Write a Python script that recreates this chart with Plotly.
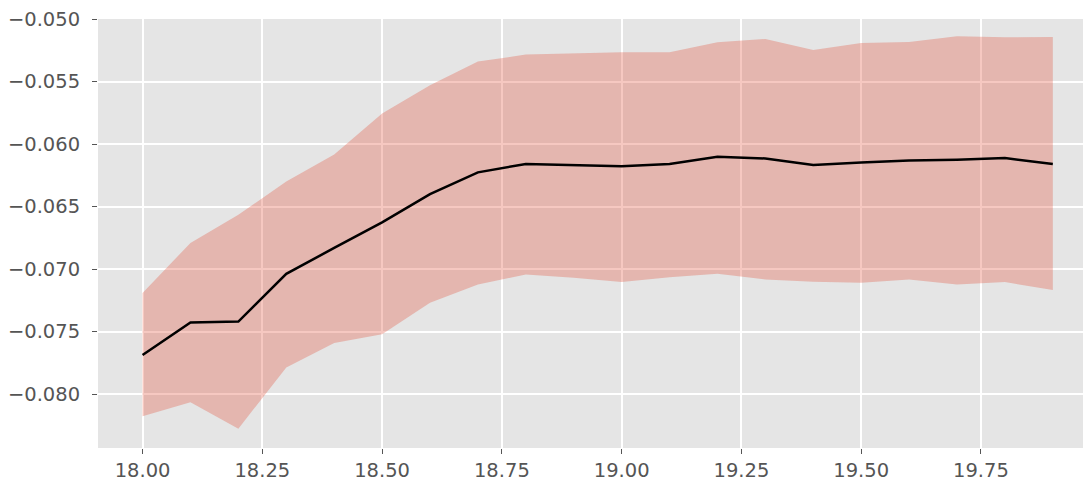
import plotly.graph_objects as go

x_vals = [18.0, 18.1, 18.2, 18.3, 18.4, 18.5, 18.6, 18.7, 18.8, 18.9,
          19.0, 19.1, 19.2, 19.3, 19.4, 19.5, 19.6, 19.7, 19.8, 19.9]

mean_vals = [-0.07688, -0.07428, -0.07420, -0.07038, -0.06831, -0.06627, -0.06401, -0.06226,
             -0.06159, -0.06167, -0.06178, -0.06159, -0.06101, -0.06115, -0.06167, -0.06147,
             -0.06131, -0.06125, -0.06112, -0.06159]

upper_vals = [-0.07192, -0.06791, -0.06565, -0.06300, -0.06083, -0.05756, -0.05530, -0.05339,
              -0.05284, -0.05273, -0.05265, -0.05265, -0.05186, -0.05159, -0.05247, -0.05191,
              -0.05183, -0.05138, -0.05146, -0.05143]

lower_vals = [-0.08177, -0.08065, -0.08277, -0.07787, -0.07592, -0.07521, -0.07269, -0.07123,
              -0.07043, -0.07070, -0.07104, -0.07065, -0.07038, -0.07083, -0.07102, -0.07110,
              -0.07083, -0.07123, -0.07104, -0.07168]

x_ticks = [18.00, 18.25, 18.50, 18.75, 19.00, 19.25, 19.50, 19.75]
y_ticks = [-0.080, -0.075, -0.070, -0.065, -0.060, -0.055, -0.050]

fig = go.Figure()
fig.add_trace(go.Scatter(x=x_vals, y=lower_vals, mode="lines", line=dict(width=0),
                         showlegend=False, hoverinfo="skip"))
fig.add_trace(go.Scatter(x=x_vals, y=upper_vals, mode="lines", line=dict(width=0),
                         fill="tonexty", fillcolor="rgba(226,74,51,0.3)",
                         showlegend=False, hoverinfo="skip"))
fig.add_trace(go.Scatter(x=x_vals, y=mean_vals, mode="lines",
                         line=dict(color="black", width=2.5), showlegend=False))

axis_common = dict(
    showgrid=True, gridcolor="white", gridwidth=1.6,
    zeroline=False, showline=False,
    ticks="outside", ticklen=5, tickwidth=1.3, tickcolor="#555555",
    tickfont=dict(family="DejaVu Sans", size=19.5, color="#555555"),
    ticklabeloverflow="allow",
)

fig.update_xaxes(range=[17.907, 19.963], tickvals=x_ticks,
                 ticktext=[f"{v:.2f}" for v in x_ticks], **axis_common)
fig.update_yaxes(range=[-0.08432, -0.04999], tickvals=y_ticks,
                 ticktext=[f"\u2212{abs(v):.3f}" for v in y_ticks],
                 ticklabelstandoff=8, **axis_common)

# page body has an 8px margin, so the figure is offset by 8px
fig.update_layout(
    width=1075, height=477,
    margin=dict(l=89, r=0, t=9, b=37),
    paper_bgcolor="white", plot_bgcolor="#E5E5E5",
    showlegend=False,
)

fig.write_html("out.html")
